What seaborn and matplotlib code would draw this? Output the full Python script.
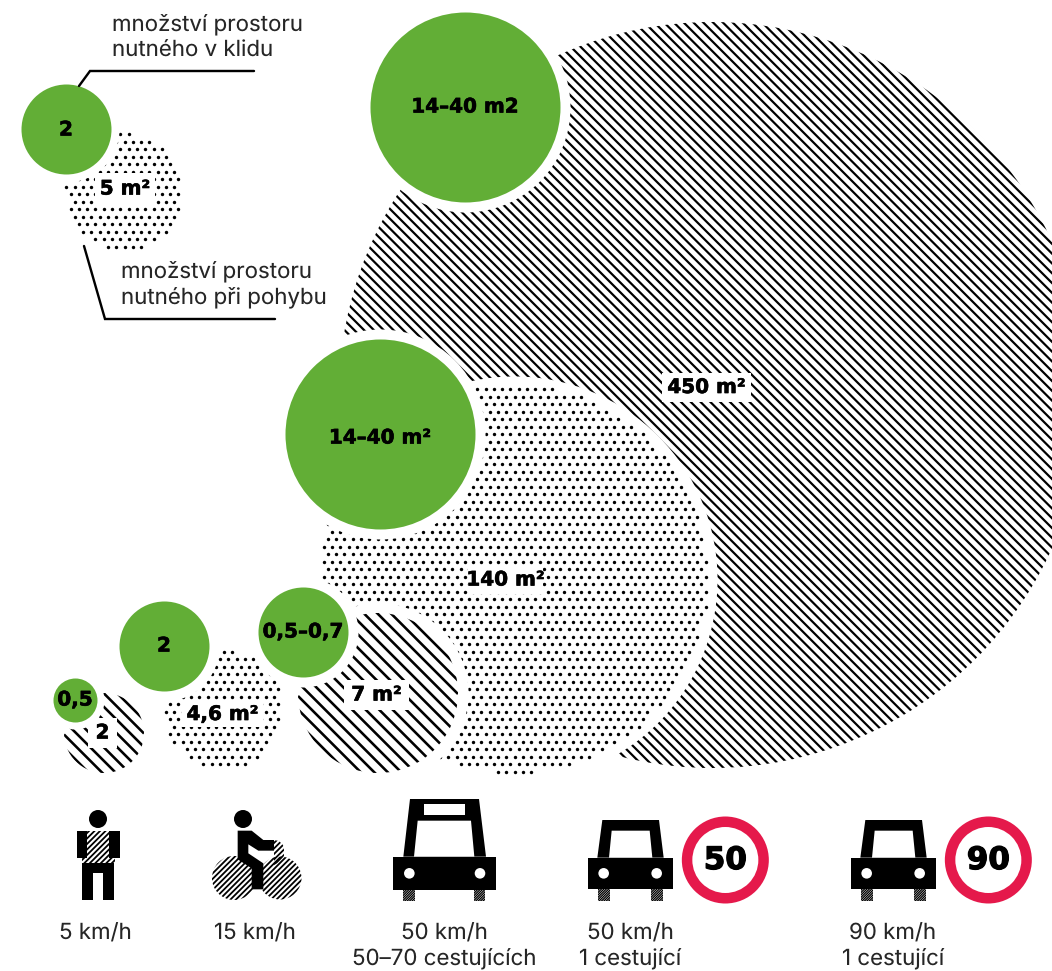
import numpy as np
import matplotlib
matplotlib.use("Agg")
import matplotlib.pyplot as plt
import matplotlib.patheffects as pe
from matplotlib.patches import Circle, Rectangle, Polygon
from matplotlib.collections import LineCollection
import seaborn as sns

# ---------- data (pixel geometry) ----------
green_x = [66, 465, 380, 303, 164, 75]
green_y = [129, 107, 434, 632, 646, 700]
green_r = [45, 95, 95, 45, 45, 22]
green_labels = ["2", "14–40 m2", "14–40 m²", "0,5–0,7", "2", "0,5"]
green_label_y = [130, 107, 438, 632, 646, 700]
green_halo = [8, 10, 10, 10, 10, 7]

dotted_x = [124, 223, 514]
dotted_y = [192, 710, 579]
dotted_r = [58, 59, 194]
dotted_labels = ["5 m²", "4,6 m²", "140 m²"]
dotted_boxes = [(95, 173, 155, 205), (182, 702, 263, 727), (468, 566, 543, 594)]

hatched_x = [712, 378, 104]
hatched_y = [395, 693, 733]
hatched_r = [373, 80, 40]
hatched_labels = ["450 m²", "7 m²", "2"]
hatched_boxes = [(662, 373, 751, 402), (344, 680, 409, 710), (88, 718, 117, 748)]
hatched_period = [9.8, 13.5, 13.5]

speed_x = [95, 255, 444, 630, 893]
speed_labels = ["5 km/h", "15 km/h", "50 km/h\n50–70 cestujících",
                "50 km/h\n1 cestující", "90 km/h\n1 cestující"]
sign_labels = ["50", "90"]

note_top = ["množství prostoru", "nutného v klidu"]
note_bottom = ["množství prostoru", "nutného při pohybu"]

GREEN = "#62ae36"
RED = "#e5194b"
INK = "#262626"
BOLD = "DejaVu Sans"
LIGHT = "Inter"
LIGHT_PX = 22.3

sns.set_theme(style="white")
plt.rcParams["text.hinting"] = "none"
plt.rcParams["text.hinting_factor"] = 1
fig = plt.figure(figsize=(10.52, 9.71), dpi=100, facecolor="white")
ax = fig.add_axes([0, 0, 1, 1])
ax.axis("off")


def pts(px):
    return px * 0.72


def disc(x, y, r, color, z):
    sns.scatterplot(x=[x], y=[y], s=(2 * pts(r)) ** 2, color=color, linewidth=0,
                    zorder=z, ax=ax, legend=False)


def hatch(patch, bounds, period, lw, z, slope=1):
    """diagonal stripes clipped to a patch"""
    x0, y0, x1, y1 = bounds
    ax.add_patch(patch)
    patch.set_visible(False)
    if slope > 0:
        cs = np.arange(y0 - x1, y1 - x0 + period, period)
    else:
        cs = np.arange(y0 + x0, y1 + x1 + period, period)
    segs = [[(x0, slope * x0 + c), (x1, slope * x1 + c)] for c in cs]
    lc = LineCollection(segs, colors="black", linewidths=pts(lw), zorder=z)
    ax.add_collection(lc)
    lc.set_clip_path(patch)


def dots(x, y, r, z):
    dx, dy = 8.3, 7.5
    jmin = int((y - r - 532) // dy)
    jmax = int((y + r - 532) // dy) + 1
    xs, ys = [], []
    for j in range(jmin, jmax + 1):
        row_y = 532 + j * dy
        off = dx / 2 if j % 2 else 0
        imin = int((x - r) // dx) - 1
        imax = int((x + r) // dx) + 1
        for i in range(imin, imax + 1):
            xs.append(i * dx + off)
            ys.append(row_y)
    xs, ys = np.array(xs), np.array(ys)
    keep = (xs - x) ** 2 + (ys - y) ** 2 <= r ** 2
    sns.scatterplot(x=xs[keep], y=ys[keep], s=(2 * pts(1.7)) ** 2, color="black",
                    linewidth=0, zorder=z, ax=ax, legend=False, snap=False)


def bold(x, y, s, size, z=40, stroke=0.45):
    t = ax.text(x, y, s, ha="center", va="center", family=BOLD, weight="bold",
                fontsize=pts(size), color="black", zorder=z)
    t.set_path_effects([pe.withStroke(linewidth=stroke, foreground="black")])


def box(b, z):
    ax.add_patch(Rectangle((b[0], b[1]), b[2] - b[0], b[3] - b[1], fc="white", ec="none", zorder=z))


def light(x, y, s, ha="left"):
    ax.text(x, y, s, family=LIGHT, fontsize=pts(LIGHT_PX), color=INK, ha=ha, va="baseline", zorder=30)


# ---------- bubbles, painted back to front ----------
layer = 1
disc(hatched_x[0], hatched_y[0], hatched_r[0], "white", layer)
hatch(Circle((hatched_x[0], hatched_y[0]), hatched_r[0]),
      (339, 22, 1085, 768), hatched_period[0], 2.2, layer + 0.5)
box(hatched_boxes[0], layer + 0.6)
layer = 2
disc(green_x[1], green_y[1], green_r[1] + green_halo[1], "white", layer)
disc(green_x[1], green_y[1], green_r[1], GREEN, layer + 0.5)
layer = 3
disc(dotted_x[2], dotted_y[2], dotted_r[2] + 9, "white", layer)
dots(dotted_x[2], dotted_y[2], dotted_r[2], layer + 0.5)
box(dotted_boxes[2], layer + 0.6)
layer = 4
disc(hatched_x[1], hatched_y[1], hatched_r[1] + 10, "white", layer)
hatch(Circle((hatched_x[1], hatched_y[1]), hatched_r[1]),
      (298, 613, 458, 773), hatched_period[1], 2.6, layer + 0.5)
box(hatched_boxes[1], layer + 0.6)
layer = 5
for i in (0, 1):
    dots(dotted_x[i], dotted_y[i], dotted_r[i], layer)
    box(dotted_boxes[i], layer + 0.1)
hatch(Circle((hatched_x[2], hatched_y[2]), hatched_r[2]),
      (64, 693, 144, 773), hatched_period[2], 2.6, layer)
box(hatched_boxes[2], layer + 0.1)
layer = 6
for i in (0, 2, 3, 4, 5):
    disc(green_x[i], green_y[i], green_r[i] + green_halo[i], "white", layer)
    disc(green_x[i], green_y[i], green_r[i], GREEN, layer + 0.5)

# ---------- bubble labels ----------
for x, y, s in zip(green_x, green_label_y, green_labels):
    bold(x, y, s, 20)
for b, s in zip(dotted_boxes, dotted_labels):
    bold((b[0] + b[2]) / 2, (b[1] + b[3]) / 2, s, 20)
for b, s in zip(hatched_boxes, hatched_labels):
    bold((b[0] + b[2]) / 2, (b[1] + b[3]) / 2, s, 20)

# ---------- annotations ----------
for pts_xy in ([(79, 86), (90, 71), (254, 71)], [(84, 246), (105, 319), (275, 319)]):
    xs, ys = zip(*pts_xy)
    ax.plot(xs, ys, color="black", lw=pts(2.4), solid_joinstyle="miter", zorder=8)
for s, y in zip(note_top, (31, 57)):
    light(112, y, s)
for s, y in zip(note_bottom, (278, 304)):
    light(121, y, s)

# ---------- icons ----------
Z = 20


def rect(x0, y0, x1, y1, c="black", z=Z):
    ax.add_patch(Rectangle((x0, y0), x1 - x0, y1 - y0, fc=c, ec="none", zorder=z))


def poly(p, c="black", z=Z):
    ax.add_patch(Polygon(p, closed=True, fc=c, ec="none", zorder=z))


def circ(x, y, r, c="black", z=Z):
    ax.add_patch(Circle((x, y), r, fc=c, ec="none", zorder=z))


def fine(patch, bounds, period=5.5, lw=1.8):
    hatch(patch, bounds, period, lw, Z - 1, slope=-1)


# pedestrian
circ(98, 819, 9)
rect(77, 831, 87, 858)
rect(109, 831, 120, 858)
fine(Polygon([(87, 831), (109, 831), (109, 858), (115, 858), (115, 863), (82, 863), (82, 858), (87, 858)]),
     (80, 829, 118, 865))
poly([(82, 863), (114, 863), (114, 900), (103, 900), (103, 873), (93, 873), (93, 900), (82, 900)])

# cyclist
cyc = 3.0
circ(243, 819, 9)
fine(Circle((234, 878), 22), (210, 854, 258, 902))
fine(Circle((280, 878), 21.5), (256, 854, 304, 902))
fine(Polygon([(274, 840), (279, 841), (283, 845), (284, 850), (284, 856), (280, 862), (274, 865)]),
     (270, 836, 290, 870))
body = np.array([(563, 122), (605, 122), (640, 150), (672, 150), (672, 182), (625, 182), (595, 163),
                 (595, 190), (640, 220), (640, 298), (605, 298), (605, 235), (563, 208)], float)
poly(body / cyc + (50, 790))


def fz(origin, p):
    return np.array(p, float) / 3 + origin


# bus
o = np.array((50, 790))
poly(fz(o, [(1080, 27), (1287, 27), (1308, 200), (1060, 200)]))
poly(fz(o, [(1103, 92), (1263, 92), (1273, 200), (1092, 200)]), "white", Z + 1)
a = fz(o, [(1122, 42), (1245, 75)])
rect(a[0][0], a[0][1], a[1][0], a[1][1], "white", Z + 1)
a = fz(o, [(1029, 200), (1338, 300)])
rect(a[0][0], a[0][1], a[1][0], a[1][1], "black", Z + 2)
for hx in (1078, 1290):
    p = fz(o, [(hx, 250)])[0]
    circ(p[0], p[1], 5.3, "white", Z + 3)
for wx0, wx1 in ((1059, 1095), (1272, 1306)):
    a = fz(o, [(wx0, 300), (wx1, 332)])
    fine(Rectangle(a[0], a[1][0] - a[0][0], a[1][1] - a[0][1]),
         (a[0][0] - 2, a[0][1] - 2, a[1][0] + 2, a[1][1] + 2), 2.4, 1.3)

# cars with signs
for k, dx in enumerate((0, 263)):
    o = np.array((570 + dx, 790))
    poly(fz(o, [(97, 90), (267, 90), (281, 203), (82, 203)]))
    poly(fz(o, [(125, 122), (239, 122), (247, 203), (117, 203)]), "white", Z + 1)
    a = fz(o, [(54, 203), (308, 298)])
    rect(a[0][0], a[0][1], a[1][0], a[1][1], "black", Z + 2)
    for hx in (101, 260):
        p = fz(o, [(hx, 250)])[0]
        circ(p[0], p[1], 5.3, "white", Z + 3)
    for wx0, wx1 in ((84, 120), (243, 279)):
        a = fz(o, [(wx0, 298), (wx1, 332)])
        fine(Rectangle(a[0], a[1][0] - a[0][0], a[1][1] - a[0][1]),
             (a[0][0] - 2, a[0][1] - 2, a[1][0] + 2, a[1][1] + 2), 2.4, 1.3)
    s = fz(o, [(466, 210)])[0]
    circ(s[0], s[1], 43.5, RED)
    circ(s[0], s[1], 33, "white", Z + 1)
    bold(s[0], s[1] + 0.5, sign_labels[k], 31, Z + 2, stroke=0.9)

# ---------- speed captions ----------
for x, s in zip(speed_x, speed_labels):
    for line, y in zip(s.split("\n"), (940, 965)):
        light(x, y, line, ha="center")

ax.set_xlim(0, 1052)
ax.set_ylim(971, 0)
fig.savefig("out.png", dpi=100, facecolor="white")
